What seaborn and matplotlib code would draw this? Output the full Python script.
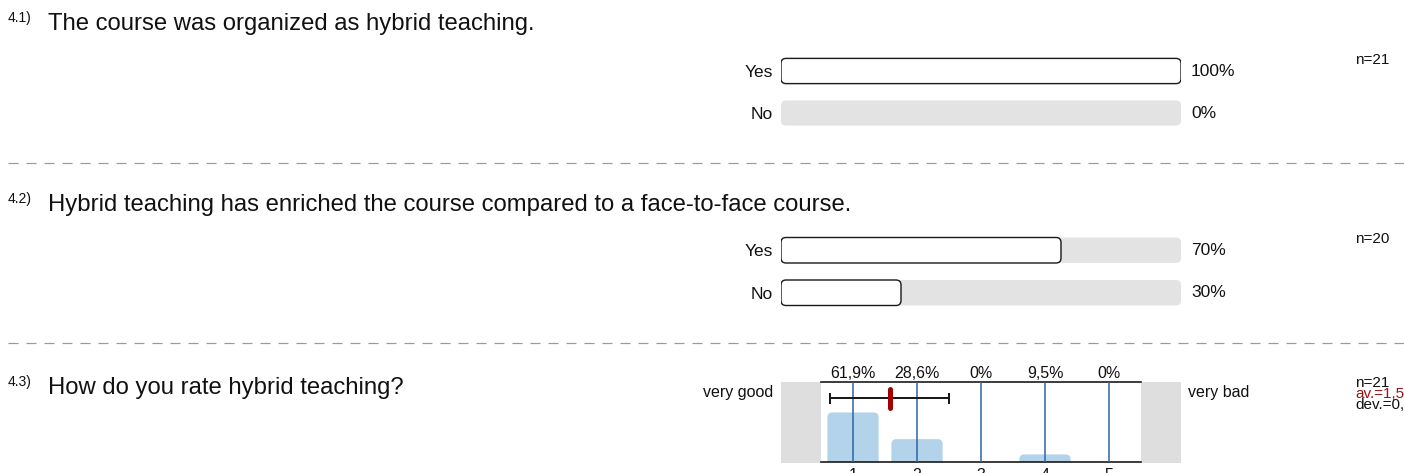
import numpy as np
import pandas as pd
import matplotlib
matplotlib.use("Agg")
import matplotlib.pyplot as plt
import seaborn as sns
from matplotlib.patches import FancyBboxPatch
from matplotlib.lines import Line2D

# ---------------- data ----------------
q_numbers = ["4.1)", "4.2)", "4.3)"]
q_titles = ["The course was organized as hybrid teaching.",
            "Hybrid teaching has enriched the course compared to a face-to-face course.",
            "How do you rate hybrid teaching?"]
yn_categories = ["Yes", "No"]
q1_percent = [100, 0]
q2_percent = [70, 30]
q1_n = 21
q2_n = 20
scale_values = [1, 2, 3, 4, 5]
q3_percent = [61.9, 28.6, 0, 9.5, 0]
q3_n = 21
q3_pole_left = "very good"
q3_pole_right = "very bad"

# ---------------- style ----------------
sns.set_theme(style="white")
plt.rcParams['font.family'] = ['Liberation Sans', 'DejaVu Sans']
plt.rcParams['lines.scale_dashes'] = False

W, H = 1404, 473
DPI = 100
PT = 72 / DPI  # points per pixel
fig = plt.figure(figsize=(W / DPI, H / DPI), dpi=DPI)
fig.patch.set_facecolor('white')

TEXT = '#111111'
TRACK = '#e3e3e3'
HIST_BAR = '#b3d3ea'
GRID_BLUE = '#2f64a6'
RED = '#a30000'


def fx(x):
    return x / W


def fy(y):
    return 1 - y / H


def ax_px(x0, y0, x1, y1):
    return fig.add_axes([x0 / W, 1 - y1 / H, (x1 - x0) / W, (y1 - y0) / H])


def clean(ax):
    for s in ax.spines.values():
        s.set_visible(False)
    ax.set_xlabel('')
    ax.set_ylabel('')
    ax.patch.set_alpha(0)


def round_bars(ax, patches, r_px, w_px, h_px, face, edge, lw, extend_bottom=False):
    x0, x1 = ax.get_xlim()
    y0, y1 = ax.get_ylim()
    xu = abs(x1 - x0) / w_px
    yu = abs(y1 - y0) / h_px
    for p in list(patches):
        x, y, w, h = p.get_x(), p.get_y(), p.get_width(), p.get_height()
        p.remove()
        if w <= 0 or h <= 0:
            continue
        if extend_bottom:
            y -= r_px * yu * 2
            h += r_px * yu * 2
        fb = FancyBboxPatch((x, y), w, h,
                            boxstyle=f"round,pad=0,rounding_size={r_px * xu}",
                            mutation_aspect=yu / xu,
                            facecolor=face, edgecolor=edge, linewidth=lw, zorder=1)
        ax.add_patch(fb)


# ---------------- titles & separators ----------------
title_y = [24, 205, 388]
for num, title, ty in zip(q_numbers, q_titles, title_y):
    fig.text(fx(8), fy(ty - 6), num, fontsize=10, va='center', ha='left', color=TEXT)
    fig.text(fx(48), fy(ty), title, fontsize=17.2, va='center', ha='left', color=TEXT)

for sy in [163, 343]:
    fig.add_artist(Line2D([fx(8), 1], [fy(sy), fy(sy)], transform=fig.transFigure,
                          color='#9a9a9a', lw=1.2 * PT,
                          linestyle=(0, (10 * PT, 8 * PT))))

# ---------------- yes/no questions ----------------
BAR_W = 0.6


def yes_no(box, percents, n, n_y):
    ax = ax_px(*box)
    df = pd.DataFrame({"cat": yn_categories, "pct": percents,
                       "full": [100] * len(percents)})
    k = len(ax.patches)
    sns.barplot(data=df, x="full", y="cat", orient="h", color=TRACK, saturation=1,
                width=BAR_W, errorbar=None, ax=ax)
    track = ax.patches[k:]
    k = len(ax.patches)
    sns.barplot(data=df, x="pct", y="cat", orient="h", color="white", saturation=1,
                width=BAR_W, errorbar=None, ax=ax)
    vals = ax.patches[k:]
    ax.set_xlim(0, 100)
    ax.set_ylim(len(percents) - 0.5, -0.5)
    wpx = box[2] - box[0]
    hpx = box[3] - box[1]
    round_bars(ax, track, 5, wpx, hpx, TRACK, 'none', 0)
    round_bars(ax, vals, 5, wpx, hpx, 'white', '#1a1a1a', 1.4 * PT)
    clean(ax)
    ax.set_xticks([])
    ax.tick_params(axis='y', length=0, pad=8 * PT, labelsize=12.5, labelcolor=TEXT)
    for i, v in enumerate(percents):
        ax.annotate(f"{v}%", xy=(100, i), xytext=(10 * PT, 0), textcoords='offset points',
                    ha='left', va='center', fontsize=12.5, color=TEXT)
    fig.text(fx(1355), fy(n_y), f"n={n}", fontsize=11, va='center', ha='left', color=TEXT)


yes_no((781, 50, 1181, 134), q1_percent, q1_n, 60)
yes_no((781, 229, 1181, 314), q2_percent, q2_n, 239)

# ---------------- rating scale question ----------------
for gx0, gx1 in [(781, 821), (1141, 1181)]:
    g = ax_px(gx0, 382, gx1, 463)
    g.set_facecolor('#dedede')
    g.set_xticks([])
    g.set_yticks([])
    for s in g.spines.values():
        s.set_visible(False)

ax3 = ax_px(821, 382, 1141, 462)
df3 = pd.DataFrame({"scale": [str(v) for v in scale_values], "pct": q3_percent})
k = len(ax3.patches)
sns.barplot(data=df3, x="scale", y="pct", color=HIST_BAR, saturation=1, width=0.8,
            errorbar=None, ax=ax3)
bars = ax3.patches[k:]
ax3.set_xlim(-0.5, len(scale_values) - 0.5)
ax3.set_ylim(0, 100)
round_bars(ax3, bars, 5, 320, 80, HIST_BAR, 'none', 0, extend_bottom=True)
ax3.patch.set_alpha(0)
ax3.set_xlabel('')
ax3.set_ylabel('')
ax3.set_yticks([])
ax3.set_xticks(range(len(scale_values)))
ax3.set_xticklabels([str(v) for v in scale_values])
ax3.set_axisbelow(False)
ax3.xaxis.grid(True, color=GRID_BLUE, lw=1.1)
ax3.yaxis.grid(False)
ax3.spines['left'].set_visible(False)
ax3.spines['right'].set_visible(False)
for s in ['top', 'bottom']:
    ax3.spines[s].set_visible(True)
    ax3.spines[s].set_color('#111111')
    ax3.spines[s].set_linewidth(1.6 * PT)
ax3.tick_params(axis='x', length=0, pad=6 * PT, labelsize=11.5, labelcolor=TEXT)

for i, v in enumerate(q3_percent):
    ax3.annotate(f"{v:g}%".replace('.', ','), xy=(i, 100), xytext=(0, 9 * PT),
                 textcoords='offset points', ha='center', va='center',
                 fontsize=11.5, color=TEXT)

counts = np.round(np.array(q3_percent) * q3_n / 100)
vals = np.array(scale_values, dtype=float)
mean = (counts * vals).sum() / counts.sum()
sd = np.sqrt((counts * (vals - mean) ** 2).sum() / (counts.sum() - 1))
pos_mean = np.interp(mean, scale_values, range(len(scale_values)))

ax3.errorbar(pos_mean, 80, xerr=sd, fmt='none', ecolor='#1a1a1a',
             elinewidth=2 * PT, capsize=5.5 * PT, capthick=2 * PT, zorder=5)
ax3.plot([pos_mean, pos_mean], [68, 91], color=RED, lw=5 * PT,
         solid_capstyle='round', zorder=6)

fig.text(fx(773), fy(393), q3_pole_left, ha='right', va='center', fontsize=11.5, color=TEXT)
fig.text(fx(1188), fy(393), q3_pole_right, ha='left', va='center', fontsize=11.5, color=TEXT)

fig.text(fx(1355), fy(383), f"n={q3_n}", fontsize=11, va='center', ha='left', color=TEXT)
fig.text(fx(1355), fy(394), "av.=" + f"{mean:.2f}".replace('.', ','),
         fontsize=11, va='center', ha='left', color='#9e1111')
fig.text(fx(1355), fy(405), "dev.=" + f"{sd:.2f}".replace('.', ','),
         fontsize=11, va='center', ha='left', color=TEXT)

fig.savefig('out.png', dpi=DPI)
